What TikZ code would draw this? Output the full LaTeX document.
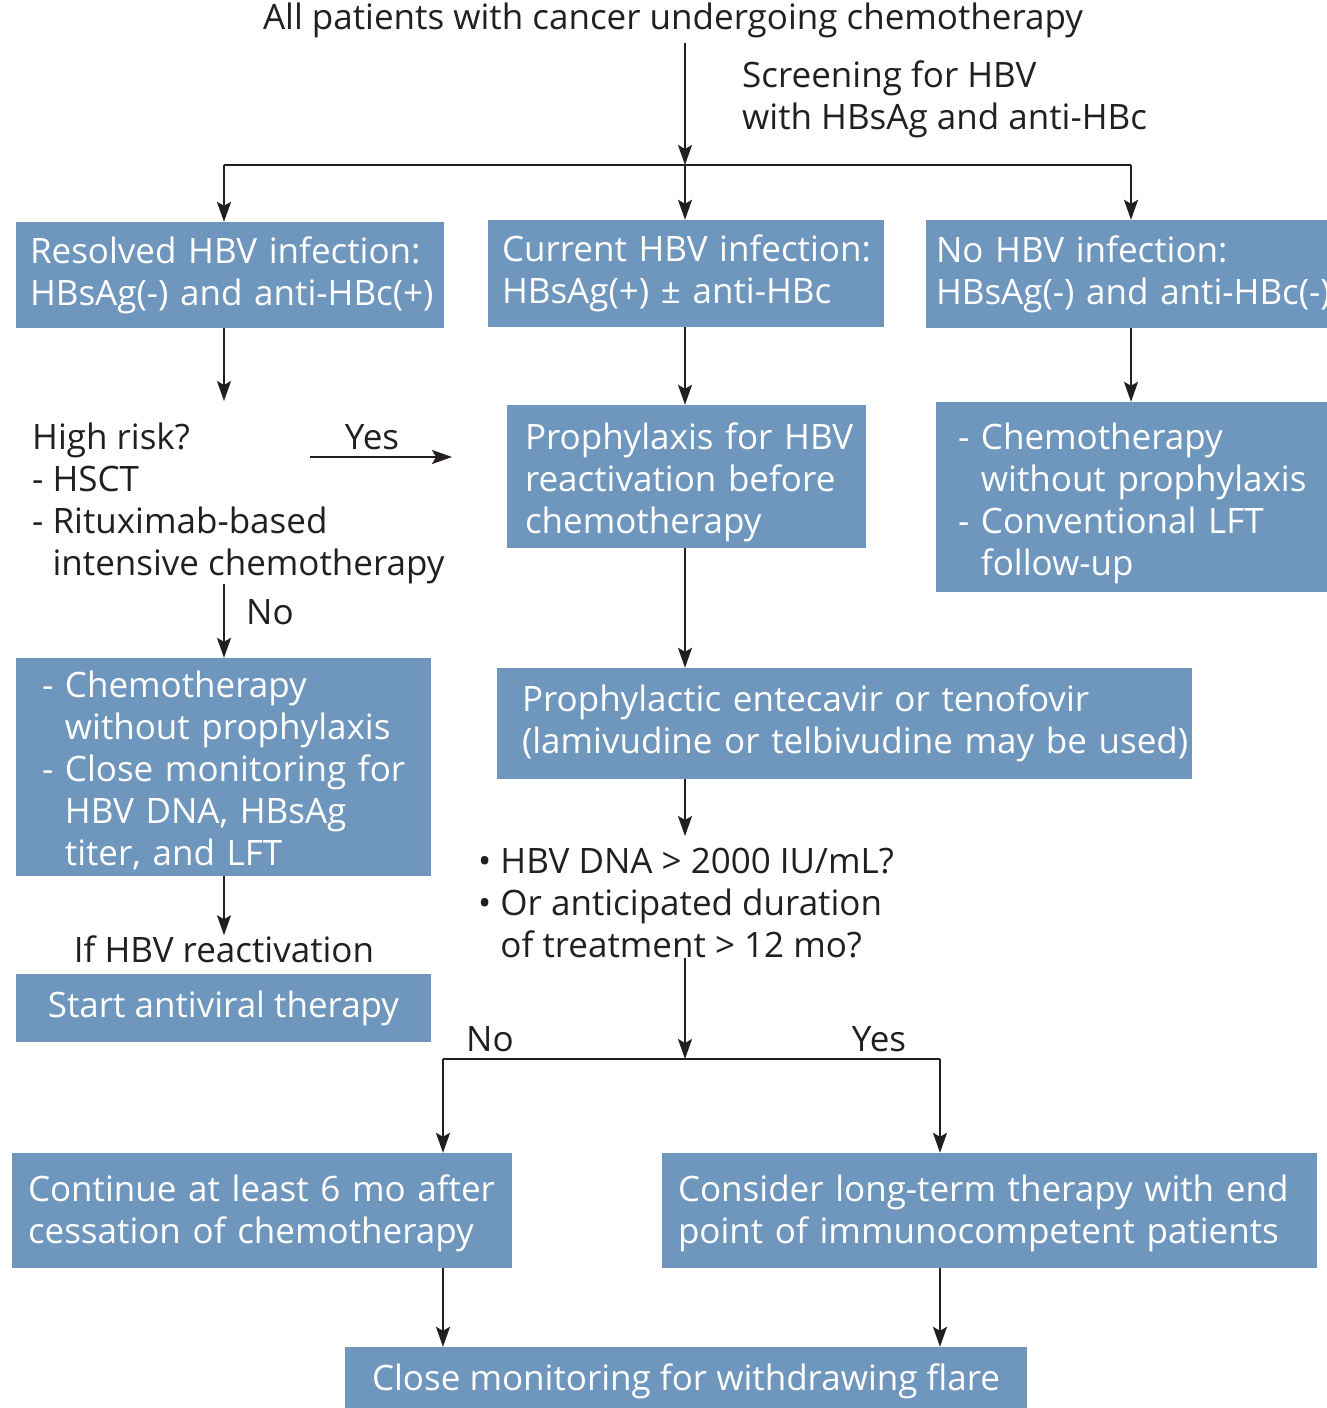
\documentclass[tikz,border=0pt]{standalone}
\usepackage{fontspec}
\setmainfont{Open Sans}
\usetikzlibrary{arrows.meta}
\definecolor{boxblue}{RGB}{111,151,190}
\definecolor{txt}{RGB}{35,31,32}
\begin{document}
\begin{tikzpicture}[x=1pt,y=-1pt,
  font=\fontsize{35}{42}\selectfont,
  box/.style={fill=boxblue, text=white, align=left, inner ysep=0pt},
  cbox/.style={fill=boxblue, text=white, align=center, inner ysep=0pt},
  plain/.style={text=txt, align=left, inner sep=0pt, anchor=north west},
  lbl/.style={text=txt, inner sep=0pt},
  arr/.style={-{Stealth[length=20pt,width=14pt,inset=4pt]}, line width=2.1pt, draw=txt},
  ln/.style={line width=2.1pt, draw=txt}]
\useasboundingbox (0,0) rectangle (1327,1408);
% columns
\coordinate (colL) at (224,0);
\coordinate (colM) at (685,0);
\coordinate (colR) at (1131,0);
% title
\node[lbl, anchor=base] (title) at (673,29) {All patients with cancer undergoing chemotherapy};
\node[plain] (screen) at (742,61) {Screening for HBV\\with HBsAg and anti-HBc};
\coordinate (split) at (685,165);
\coordinate (splitL) at (224,165);
\coordinate (splitR) at (1131,165);
% first row
\node[box, minimum width=428pt, minimum height=106pt, inner xsep=14pt, text width=400pt] (b1) at (230,275)
  {\mbox{Resolved HBV infection:}\\\mbox{HBsAg(-) and anti-HBc(+)}};
\node[box, minimum width=396pt, minimum height=107pt, inner xsep=14pt, text width=368pt] (b2) at (686,273.5)
  {\mbox{Current HBV infection:}\\\mbox{HBsAg(+) ± anti-HBc}};
\node[box, minimum width=419pt, minimum height=108pt, inner xsep=10pt, text width=399pt] (b3) at (1135.5,274)
  {\mbox{No HBV infection:}\\\mbox{HBsAg(-) and anti-HBc(-)}};
% second row
\node[plain] (hr) at (32,423) {High risk?\\- HSCT\\- Rituximab-based\\\hphantom{- }intensive chemotherapy};
\node[lbl] (yes1) at (372,437) {Yes};
\coordinate (yesA) at (310,457);
\coordinate (yesB) at (452,457);
\node[box, minimum width=359pt, minimum height=143pt, inner xsep=18pt, text width=323pt] (b4) at (686.5,476.5)
  {\mbox{\rule{0pt}{39pt}Prophylaxis for HBV}\\\mbox{reactivation before}\\\mbox{chemotherapy}};
\node[box, minimum width=404pt, minimum height=190pt, inner xsep=22pt, text width=360pt] (b5) at (1138,497)
  {\mbox{\rule{0pt}{39pt}- Chemotherapy}\\\mbox{\hphantom{- }without prophylaxis}\\\mbox{- Conventional LFT}\\\mbox{\hphantom{- }follow-up}};
\node[lbl] (no1) at (270,612) {No};
% left column lower
\node[box, minimum width=415pt, minimum height=218pt, inner xsep=26pt, text width=363pt] (b6) at (223.5,767)
  {\mbox{\rule{0pt}{33pt}- Chemotherapy}\\\mbox{\hphantom{- }without prophylaxis}\\\mbox{- Close monitoring for}\\\mbox{\hphantom{- }HBV DNA, HBsAg}\\\mbox{\hphantom{- }titer, and LFT}};
\node[lbl] (ifr) at (224,949) {If HBV reactivation};
\node[cbox, minimum width=415pt, minimum height=68pt] (b7) at (223.5,1008) {Start antiviral therapy};
% middle column
\node[box, minimum width=695pt, minimum height=111pt, inner xsep=25pt, text width=645pt] (b8) at (844.5,723.5)
  {\mbox{Prophylactic entecavir or tenofovir}\\\mbox{(lamivudine or telbivudine may be used)}};
\node[plain] (bul) at (478,848) {• HBV DNA > 2000 IU/mL?\\• Or anticipated duration\\\hphantom{• }of treatment > 12 mo?};
\coordinate (split2) at (685,1059);
\coordinate (s2L) at (443,1059);
\coordinate (s2R) at (940,1059);
\node[lbl] (no2) at (490,1039) {No};
\node[lbl] (yes2) at (879,1039) {Yes};
\node[box, minimum width=500pt, minimum height=115pt, inner xsep=16pt, text width=468pt] (b9) at (262,1210.5)
  {\mbox{\rule{0pt}{33pt}Continue at least 6 mo after}\\\mbox{cessation of chemotherapy}};
\node[box, minimum width=655pt, minimum height=115pt, inner xsep=16pt, text width=623pt] (b10) at (989.5,1210.5)
  {\mbox{\rule{0pt}{33pt}Consider long-term therapy with end}\\\mbox{point of immunocompetent patients}};
\node[cbox, minimum width=682pt, minimum height=68pt] (b11) at (686,1381) {Close monitoring for withdrawing flare};
% connectors
\draw[arr] ([yshift=-5pt]title.south -| colM) -- (split);
\draw[ln] (splitL) -- (splitR);
\draw[arr] (splitL) -- (b1.north -| colL);
\draw[arr] (split) -- (b2.north -| colM);
\draw[arr] (splitR) -- (b3.north -| colR);
\draw[arr] (b1.south -| colL) -- ([yshift=22pt]hr.north -| colL);
\draw[arr] (b2.south -| colM) -- (b4.north -| colM);
\draw[arr] (b3.south -| colR) -- (b5.north -| colR);
\draw[arr] (yesA) -- (yesB);
\draw[arr] (hr.south -| colL) -- (b6.north -| colL);
\draw[arr] (b6.south -| colL) -- (ifr.north -| colL);
\draw[arr] (b4.south -| colM) -- (b8.north -| colM);
\draw[arr] (b8.south -| colM) -- ([yshift=12pt]bul.north -| colM);
\draw[arr] (bul.south -| colM) -- (split2);
\draw[ln] (s2L) -- (s2R);
\draw[arr] (s2L) -- (b9.north -| s2L);
\draw[arr] (s2R) -- (b10.north -| s2R);
\draw[arr] (b9.south -| s2L) -- (b11.north -| s2L);
\draw[arr] (b10.south -| s2R) -- (b11.north -| s2R);
\end{tikzpicture}
\end{document}
